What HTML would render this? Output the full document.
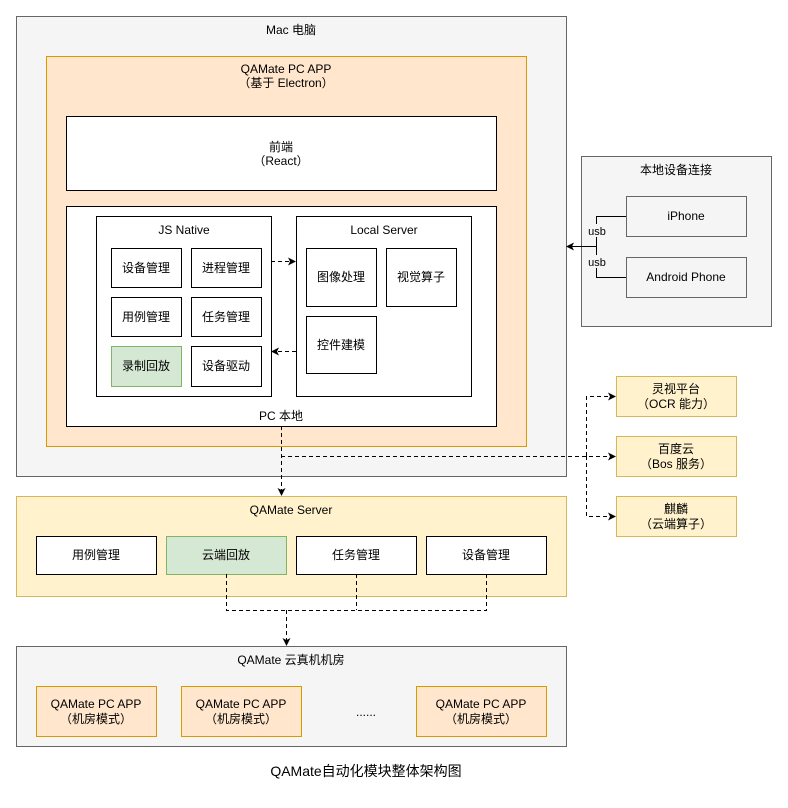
<!DOCTYPE html>
<html><head><meta charset="utf-8"><style>
html,body{margin:0;padding:0;background:#fff;}
svg text{font-family:"Liberation Sans","Noto Sans CJK SC",sans-serif;font-size:12px;fill:#000;}
</style></head><body>
<svg width="788" height="803" viewBox="0 0 788 803" xmlns="http://www.w3.org/2000/svg">
<defs>
<marker id="a" markerWidth="8" markerHeight="8" refX="7" refY="4" orient="auto" markerUnits="userSpaceOnUse">
<path d="M0,0 L8,4 L0,8 L2,4 Z" fill="#000"/></marker>
</defs>
<g text-anchor="middle">
<!-- Mac -->
<rect x="16.5" y="16.5" width="550" height="460" fill="#f5f5f5" stroke="#666"/>
<text x="291" y="34" fill="#333">Mac 电脑</text>
<rect x="46.5" y="56.5" width="480" height="390" fill="#ffe6cc" stroke="#d79b00"/>
<text x="286" y="73">QAMate PC APP</text>
<text x="286" y="87">（基于 Electron）</text>
<rect x="66.5" y="116.5" width="430" height="74" fill="#fff" stroke="#000"/>
<text x="281" y="151">前端</text>
<text x="281" y="165">（React）</text>
<rect x="66.5" y="206.5" width="430" height="220" fill="#fff" stroke="#000"/>
<text x="281" y="420">PC 本地</text>
<rect x="96.5" y="216.5" width="175" height="180" fill="#fff" stroke="#000"/>
<text x="184" y="234">JS Native</text>
<rect x="111.5" y="248.5" width="70" height="39" fill="#fff" stroke="#000"/><text x="146" y="272">设备管理</text>
<rect x="191.5" y="248.5" width="70" height="39" fill="#fff" stroke="#000"/><text x="226" y="272">进程管理</text>
<rect x="111.5" y="297.5" width="70" height="39" fill="#fff" stroke="#000"/><text x="146" y="321">用例管理</text>
<rect x="191.5" y="297.5" width="70" height="39" fill="#fff" stroke="#000"/><text x="226" y="321">任务管理</text>
<rect x="111.5" y="346.5" width="70" height="40" fill="#d5e8d4" stroke="#82b366"/><text x="146" y="370">录制回放</text>
<rect x="191.5" y="346.5" width="70" height="40" fill="#fff" stroke="#000"/><text x="226" y="370">设备驱动</text>
<rect x="296.5" y="216.5" width="175" height="180" fill="#fff" stroke="#000"/>
<text x="384" y="234">Local Server</text>
<rect x="306.5" y="248.5" width="70" height="58" fill="#fff" stroke="#000"/><text x="341" y="281">图像处理</text>
<rect x="386.5" y="248.5" width="70" height="58" fill="#fff" stroke="#000"/><text x="421" y="281">视觉算子</text>
<rect x="306.5" y="316.5" width="70" height="57" fill="#fff" stroke="#000"/><text x="341" y="349">控件建模</text>
<!-- local devices -->
<rect x="581.5" y="156.5" width="190" height="170" fill="#f5f5f5" stroke="#666"/>
<text x="676" y="174">本地设备连接</text>
<rect x="626.5" y="196.5" width="120" height="40" fill="#f5f5f5" stroke="#666"/><text x="686" y="220">iPhone</text>
<rect x="626.5" y="257.5" width="120" height="40" fill="#f5f5f5" stroke="#666"/><text x="686" y="281">Android Phone</text>
<path d="M626,216.5 H596.5 V277.5 H626" fill="none" stroke="#000"/>
<line x1="596" y1="246.5" x2="567" y2="246.5" stroke="#000" marker-end="url(#a)"/>
<rect x="587" y="224" width="20" height="13" fill="#f5f5f5"/>
<rect x="587" y="255" width="20" height="13" fill="#f5f5f5"/>
<text x="597" y="235" style="font-size:11px">usb</text>
<text x="597" y="266" style="font-size:11px">usb</text>
<!-- cloud services -->
<rect x="616.5" y="376.5" width="120" height="40" fill="#fff2cc" stroke="#d6b656"/><text x="676" y="393">灵视平台</text><text x="676" y="408">（OCR 能力）</text>
<rect x="616.5" y="436.5" width="120" height="40" fill="#fff2cc" stroke="#d6b656"/><text x="676" y="453">百度云</text><text x="676" y="468">（Bos 服务）</text>
<rect x="616.5" y="496.5" width="120" height="40" fill="#fff2cc" stroke="#d6b656"/><text x="676" y="513">麒麟</text><text x="676" y="528">（云端算子）</text>
<!-- server -->
<rect x="16.5" y="496.5" width="550" height="100" fill="#fff2cc" stroke="#d6b656"/>
<text x="291" y="514">QAMate Server</text>
<rect x="36.5" y="536.5" width="120" height="38" fill="#fff" stroke="#000"/><text x="96" y="559">用例管理</text>
<rect x="166.5" y="536.5" width="120" height="38" fill="#d5e8d4" stroke="#82b366"/><text x="226" y="559">云端回放</text>
<rect x="296.5" y="536.5" width="120" height="38" fill="#fff" stroke="#000"/><text x="356" y="559">任务管理</text>
<rect x="426.5" y="536.5" width="120" height="38" fill="#fff" stroke="#000"/><text x="486" y="559">设备管理</text>
<!-- room -->
<rect x="16.5" y="646.5" width="550" height="100" fill="#f5f5f5" stroke="#666"/>
<text x="291" y="664" fill="#333">QAMate 云真机机房</text>
<rect x="36.5" y="686.5" width="120" height="50" fill="#ffe6cc" stroke="#d79b00"/><text x="96" y="708">QAMate PC APP</text><text x="96" y="723">（机房模式）</text>
<rect x="181.5" y="686.5" width="120" height="50" fill="#ffe6cc" stroke="#d79b00"/><text x="241" y="708">QAMate PC APP</text><text x="241" y="723">（机房模式）</text>
<rect x="416.5" y="686.5" width="130" height="50" fill="#ffe6cc" stroke="#d79b00"/><text x="481" y="708">QAMate PC APP</text><text x="481" y="723">（机房模式）</text>
<text x="366" y="716">......</text>
<text x="366" y="776" style="font-size:14px">QAMate自动化模块整体架构图</text>
</g>
<!-- dashed connectors -->
<g fill="none" stroke="#000" stroke-dasharray="4 3">
<line x1="271" y1="261.5" x2="295" y2="261.5" marker-end="url(#a)"/>
<line x1="296" y1="351.5" x2="272" y2="351.5" marker-end="url(#a)"/>
<line x1="281.5" y1="426" x2="281.5" y2="495" marker-end="url(#a)"/>
<line x1="281" y1="456.5" x2="615" y2="456.5" marker-end="url(#a)"/>
<path d="M586.5,456 V396.5 H615" marker-end="url(#a)"/>
<path d="M586.5,456 V516.5 H615" marker-end="url(#a)"/>
<path d="M226.5,574 V610.5 H486.5 V574"/>
<line x1="356.5" y1="574" x2="356.5" y2="610"/>
<line x1="286.5" y1="610" x2="286.5" y2="645" marker-end="url(#a)"/>
</g>
</svg>
</body></html>
